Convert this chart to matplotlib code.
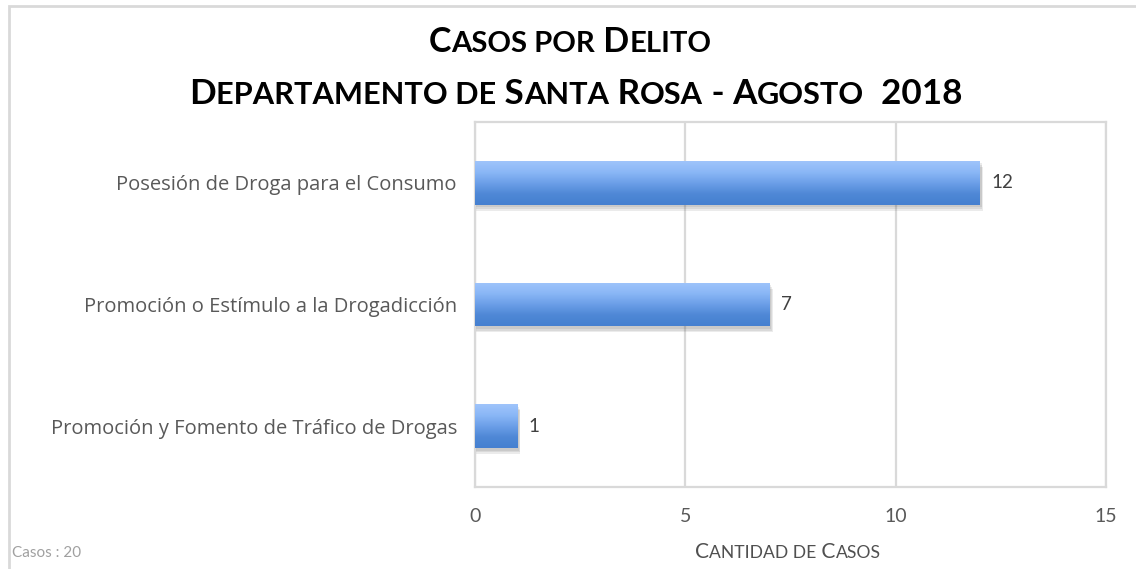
import matplotlib
matplotlib.use("Agg")
import matplotlib.pyplot as plt
import numpy as np
from matplotlib.patches import Rectangle
from matplotlib.colors import LinearSegmentedColormap

categories = ["Posesión de Droga para el Consumo",
              "Promoción o Estímulo a la Drogadicción",
              "Promoción y Fomento de Tráfico de Drogas"]
values = [12, 7, 1]
xticks = [0, 5, 10, 15]
title1 = "Casos por Delito"
title2 = "Departamento de Santa Rosa - Agosto  2018"
xlabel = "Cantidad de Casos"
footnote = "Casos : 20"

W, H = 1136, 569
fig = plt.figure(figsize=(W / 100, H / 100), dpi=100)
fig.patch.set_facecolor("white")

# outer chart frame
fig.patches.append(Rectangle((9 / W, -0.05), 1.2, 1 - 6 / H + 0.05, transform=fig.transFigure,
                             fill=False, edgecolor="#d9d9d9", linewidth=2.0))

ax = fig.add_axes([475 / W, 1 - 487 / H, (1106 - 475) / W, (487 - 122) / H])
ypos = np.arange(len(categories))
bh = 0.36
bars = ax.barh(ypos, values, height=bh, color="#6a9de6", zorder=3)

cmap = LinearSegmentedColormap.from_list("g", ["#9fc4fb", "#8ab7f6", "#6c9fe8", "#4f88d6", "#4580d0"])
grad = np.linspace(0, 1, 100).reshape(-1, 1)
for b, v, y in zip(bars, values, ypos):
    # shadow
    for k, a in zip([0.10, 0.07, 0.04], [0.10, 0.10, 0.10]):
        ax.add_patch(Rectangle((0.02, y - bh / 2 + k * 0.5), v + 0.06 * (k / 0.1), bh,
                               facecolor="#404040", alpha=a, edgecolor="none", zorder=2))
    im = ax.imshow(grad, extent=(0, v, y + bh / 2, y - bh / 2), cmap=cmap, aspect="auto",
                   zorder=4, interpolation="bicubic")
    im.set_clip_path(b)
    ax.text(v + 0.28, y, str(v), va="center", ha="left", fontsize=13.5,
            color="#404040", family="Lato", zorder=5)

ax.set_xlim(0, 15)
ax.set_ylim(len(categories) - 0.5, -0.5)
ax.set_xticks(xticks)
ax.set_xticklabels([str(t) for t in xticks], fontsize=14, color="#595959", family="Lato")
ax.set_yticks(ypos)
ax.set_yticklabels(categories, fontsize=14.5, color="#595959", family="Open Sans")
ax.tick_params(axis="both", length=0)
ax.tick_params(axis="x", pad=15)
ax.tick_params(axis="y", pad=13)
ax.grid(axis="x", color="#d9d9d9", linewidth=1.6, zorder=0)
ax.set_axisbelow(True)
for s in ax.spines.values():
    s.set_color("#d9d9d9")
    s.set_linewidth(1.6)

renderer = fig.canvas.get_renderer()


def small_caps(text, xc, ybase, big, ratio, weight, color, family="Lato"):
    runs = []
    cur, cls, pend = "", None, ""
    for ch in text:
        if ch == " ":
            pend += ch
            continue
        c = "s" if ch.islower() else "b"
        piece = pend + (ch.upper())
        pend = ""
        if c == cls:
            cur += piece
        else:
            if cur:
                runs.append((cur, cls))
            cur, cls = piece, c
    if cur:
        runs.append((cur, cls))
    arts = []
    for s, c in runs:
        t = fig.text(0, ybase, s, fontsize=big if c == "b" else big * ratio,
                     fontweight=weight, color=color, family=family, va="baseline", ha="left")
        arts.append(t)
    widths = [a.get_window_extent(renderer).width for a in arts]
    total = sum(widths)
    x = xc * W - total / 2
    for a, w in zip(arts, widths):
        a.set_x(x / W)
        x += w
    return arts


small_caps(title1, 570 / W, 1 - 52 / H, 24.5, 0.86, "bold", "black")
small_caps(title2, 576 / W, 1 - 104 / H, 25.2, 0.88, "bold", "black")
small_caps(xlabel, 788 / W, 1 - 558 / H, 15, 0.84, "normal", "#505050")
fig.text(12 / W, 1 - 557 / H, footnote, fontsize=11, color="#a0a0a0", family="Lato",
         va="baseline", ha="left")

fig.savefig("out.png", dpi=100, facecolor="white")
